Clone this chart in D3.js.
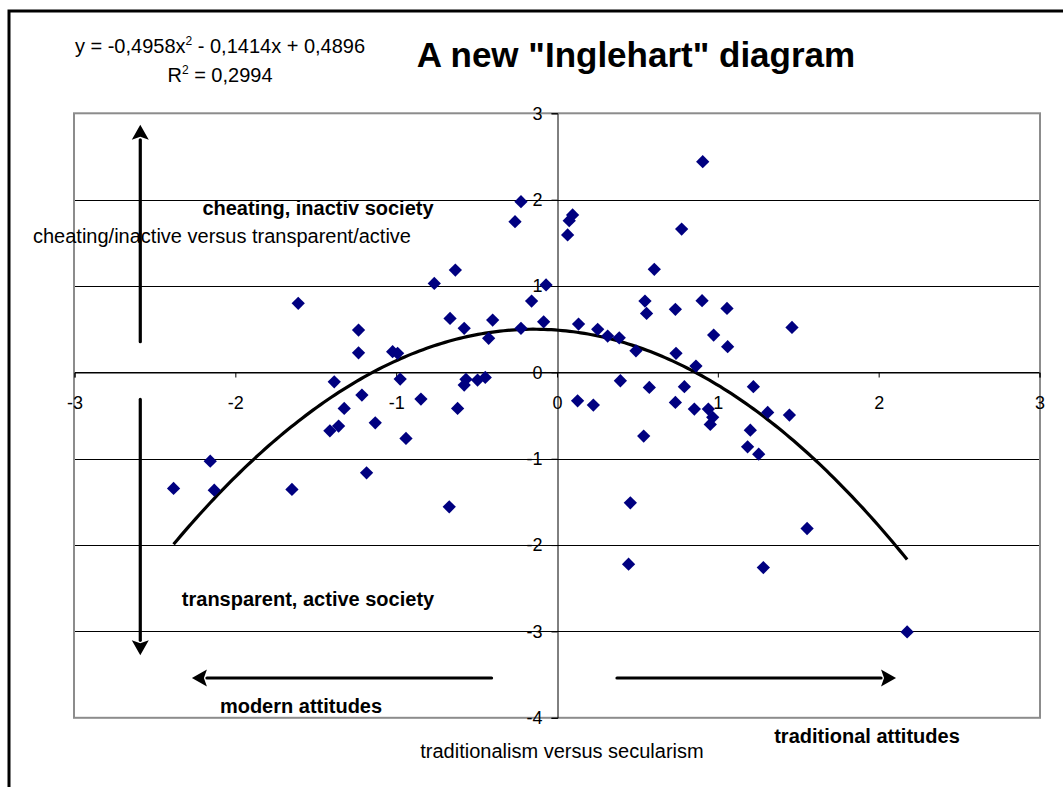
<!DOCTYPE html>
<html>
<head>
<meta charset="utf-8">
<script src="https://cdn.jsdelivr.net/npm/d3@7"></script>
<style>
  html, body { margin: 0; padding: 0; background: #fff; }
  svg { display: block; font-family: "Liberation Sans", Arial, sans-serif; }
</style>
</head>
<body>
<svg id="chart" width="1063" height="787"></svg>
<script>
// ---- data ----
const xValues = [-2.384,-2.156,-2.131,-1.648,-1.609,-1.412,-1.358,-1.385,-1.323,-1.234,-1.234,-1.213,-1.184,-1.13,-1.022,-0.991,-0.975,-0.939,-0.846,-0.763,-0.670,-0.665,-0.632,-0.618,-0.577,-0.566,-0.577,-0.494,-0.446,-0.425,-0.400,-0.261,-0.224,-0.224,-0.158,-0.083,-0.068,
  0.066,0.076,0.097,0.134,0.128,0.226,0.253,0.315,0.387,0.394,0.445,0.456,0.491,0.539,0.547,0.557,0.574,0.605,0.736,0.736,0.74,0.775,0.792,0.854,0.864,0.902,0.906,0.941,0.968,0.953,0.974,1.057,1.061,1.185,1.202,1.221,1.254,1.283,1.31,1.445,1.461,1.555,2.177];
const yValues = [-1.344,-1.028,-1.364,-1.356,0.80,-0.677,-0.622,-0.109,-0.417,0.49,0.227,-0.263,-1.163,-0.584,0.239,0.22,-0.078,-0.765,-0.309,1.03,-1.557,0.625,1.185,-0.417,0.51,-0.081,-0.147,-0.089,-0.058,0.394,0.606,1.745,1.977,0.51,0.826,0.586,1.012,
  1.591,1.757,1.823,0.56,-0.329,-0.379,0.498,0.421,0.40,-0.097,-2.221,-1.511,0.25,-0.738,0.826,0.683,-0.174,1.193,0.73,-0.348,0.22,1.66,-0.166,-0.425,0.073,0.83,2.44,-0.425,-0.521,-0.603,0.432,0.741,0.297,-0.862,-0.669,-0.166,-0.947,-2.26,-0.464,-0.495,0.521,-1.808,-3.006];
const trendCoef = [-0.4958, -0.1414, 0.4896]; // a, b, c
const xTicks = [-3,-2,-1,0,1,2,3];
const yTicks = [3,2,1,0,-1,-2,-3,-4];
const titleText = 'A new "Inglehart" diagram';
const yAxisTitle = "cheating/inactive versus transparent/active";
const xAxisTitle = "traditionalism versus secularism";
// annotation arrows in data units: [x1,y1,x2(tip),y2(tip)]
const arrows = [
  [-2.591, 0.355, -2.591, 2.866],
  [-2.591, -0.313, -2.591, -3.276],
  [-0.407, -3.539, -2.27, -3.539],
  [0.373, -3.539, 2.108, -3.539]
];

// ---- drawing ----
const svg = d3.select("#chart");
const L = 74.5, R = 1039.5, T = 113.3, B = 717.8;
const x = d3.scaleLinear().domain([-3, 3]).range([L, R]);
const y = d3.scaleLinear().domain([-4, 3]).range([B, T]);
const FONT = "Liberation Sans, Arial, sans-serif";

// outer frame (extends beyond the picture)
svg.append("path").attr("d", `M9,800 L9,11 L1070,11`)
  .attr("fill", "none").attr("stroke", "#000").attr("stroke-width", 3);

// gridlines
svg.append("g").selectAll("line").data(yTicks.filter(d => d !== -4 && d !== 3)).join("line")
  .attr("x1", L).attr("x2", R).attr("y1", d => Math.round(y(d)) + 0.5).attr("y2", d => Math.round(y(d)) + 0.5)
  .attr("stroke", "#000").attr("stroke-width", 1);

// plot border
svg.append("rect").attr("x", L - 0.5).attr("y", T).attr("width", R - L + 1).attr("height", B - T)
  .attr("fill", "none").attr("stroke", "#8c8c8c").attr("stroke-width", 2);

// x axis at y=0
const xAxis = d3.axisBottom(x).tickValues(xTicks).tickSize(5).tickFormat(d => String(d));
const gx = svg.append("g").attr("transform", `translate(0,${Math.round(y(0)) + 0.5})`).call(xAxis);
gx.attr("font-family", FONT).attr("font-size", 18);
gx.select(".domain").attr("stroke", "#000");
gx.selectAll(".tick line").attr("stroke", "#000");
gx.selectAll(".tick text").attr("fill", "#000").attr("y", 36).attr("dy", 0);

// y axis at x=0
const yAxis = d3.axisLeft(y).tickValues(yTicks).tickSize(6).tickPadding(9).tickFormat(d => String(d));
const gy = svg.append("g").attr("transform", `translate(${Math.round(x(0)) + 0.5},0)`).call(yAxis);
gy.attr("font-family", FONT).attr("font-size", 18);
gy.select(".domain").attr("stroke", "#000");
gy.selectAll(".tick line").attr("stroke", "#000");
gy.selectAll(".tick text").attr("fill", "#000");

// trendline
const xs = d3.range(0, 201).map(i => d3.min(xValues) + i * (d3.max(xValues) - d3.min(xValues)) / 200);
const line = d3.line().x(d => x(d)).y(d => y(trendCoef[0]*d*d + trendCoef[1]*d + trendCoef[2]));
svg.append("path").datum(xs).attr("d", line).attr("fill", "none").attr("stroke", "#000").attr("stroke-width", 3.2);

// points
const pts = xValues.map((v, i) => [v, yValues[i]]);
svg.append("g").selectAll("path").data(pts).join("path")
  .attr("d", d3.symbol().type(d3.symbolSquare).size(88))
  .attr("transform", d => `translate(${x(d[0])},${y(d[1])}) rotate(45)`)
  .attr("fill", "#000080");

// arrows
const ah = 8.5, al = 15;
arrows.forEach(a => {
  const x1 = x(a[0]), y1 = y(a[1]), x2 = x(a[2]), y2 = y(a[3]);
  const dx = x2 - x1, dy = y2 - y1, len = Math.hypot(dx, dy), ux = dx/len, uy = dy/len;
  const bx = x2 - ux*al, by = y2 - uy*al;
  svg.append("line").attr("x1", x1).attr("y1", y1).attr("x2", bx).attr("y2", by)
    .attr("stroke", "#000").attr("stroke-width", 3.2).attr("stroke-linecap", "round");
  svg.append("path").attr("d", `M${x2},${y2} L${bx - uy*ah},${by + ux*ah} L${bx + ux*3},${by + uy*3} L${bx + uy*ah},${by - ux*ah} Z`)
    .attr("fill", "#000");
});

// texts
svg.append("text").attr("x", 636).attr("y", 67).attr("text-anchor", "middle")
  .attr("font-size", 35).attr("font-weight", "bold").text(titleText);

const eq = svg.append("text").attr("x", 220).attr("y", 53).attr("text-anchor", "middle").attr("font-size", 20);
eq.append("tspan").text("y = -0,4958x");
eq.append("tspan").attr("font-size", 12).attr("dy", -8).text("2");
eq.append("tspan").attr("dy", 8).text(" - 0,1414x + 0,4896");
const r2 = svg.append("text").attr("x", 220).attr("y", 82).attr("text-anchor", "middle").attr("font-size", 20);
r2.append("tspan").text("R");
r2.append("tspan").attr("font-size", 12).attr("dy", -8).text("2");
r2.append("tspan").attr("dy", 8).text(" = 0,2994");

svg.append("text").attr("x", 318).attr("y", 215).attr("text-anchor", "middle")
  .attr("font-size", 20).attr("font-weight", "bold").text("cheating, inactiv society");
svg.append("text").attr("x", 308).attr("y", 606).attr("text-anchor", "middle")
  .attr("font-size", 20).attr("font-weight", "bold").text("transparent, active society");
svg.append("text").attr("x", 301).attr("y", 713).attr("text-anchor", "middle")
  .attr("font-size", 20).attr("font-weight", "bold").text("modern attitudes");
svg.append("text").attr("x", 867).attr("y", 743).attr("text-anchor", "middle")
  .attr("font-size", 20).attr("font-weight", "bold").text("traditional attitudes");

svg.append("text").attr("x", 222).attr("y", 243).attr("text-anchor", "middle")
  .attr("font-size", 20).text(yAxisTitle);
svg.append("text").attr("x", 562).attr("y", 758).attr("text-anchor", "middle")
  .attr("font-size", 20).text(xAxisTitle);
</script>
</body>
</html>
